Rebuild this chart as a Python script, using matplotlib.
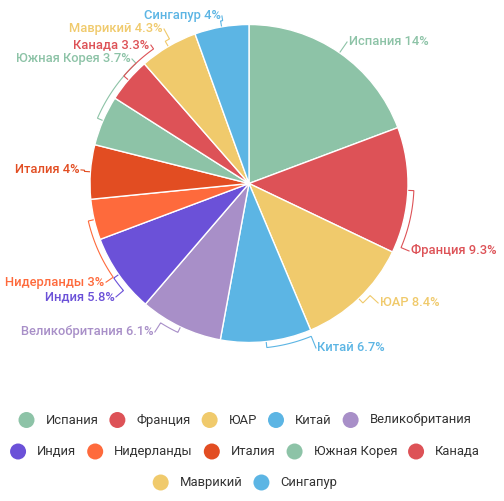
import numpy as np
import matplotlib.pyplot as plt
from matplotlib.patches import Circle

plt.rcParams['font.family'] = ['Roboto', 'DejaVu Sans']

# data
countries = ['Испания', 'Франция', 'ЮАР', 'Китай', 'Великобритания', 'Индия',
             'Нидерланды', 'Италия', 'Южная Корея', 'Канада', 'Маврикий', 'Сингапур']
shares = [14, 9.3, 8.4, 6.7, 6.1, 5.8, 3, 4, 3.7, 3.3, 4.3, 4]

colors = ['#8dc3a7', '#dd5257', '#f0ca6c', '#5cb5e4', '#a88fc8', '#6b51d8',
          '#fe6a3c', '#e24d22', '#8dc3a7', '#dd5257', '#f0ca6c', '#5cb5e4']

# layout (pixels, y going down like the picture)
W, H = 504, 501
CX, CY, R = 249, 183.5, 159
# where each leader line ends, relative to the slice's outer edge at mid angle
label_nudge = [(7.5, -10.8), (1.2, 60.6), (19.4, 4.4), (49.8, 6.4), (-25.6, 5.0),
               (-2.7, 22.3), (11.9, 62.5), (-9.4, -1.9), (29.0, -61.6), (22.5, -34.8),
               (-4.3, -17.5), (0.3, -10.9)]


def img_pt(theta, rad):
    # theta in degrees, clockwise from 12 o'clock
    t = np.radians(theta)
    return CX + rad * np.sin(t), CY - rad * np.cos(t)


fig = plt.figure(figsize=(W / 100, H / 100), dpi=100)
ax = fig.add_axes([0, 0, 1, 1])
ax.pie(shares, colors=colors, startangle=90, counterclock=False,
       center=(CX, H - CY), radius=R,
       wedgeprops=dict(edgecolor='white', linewidth=1))
ax.set_xlim(0, W)
ax.set_ylim(0, H)
ax.set_aspect('equal')
ax.axis('off')

vals = np.array(shares, dtype=float)
cum = np.cumsum(vals)
mids = (cum - vals / 2) / cum[-1] * 360

# slice labels with bracket-style leader lines
for i, name in enumerate(countries):
    mid = mids[i]
    ex, ey = img_pt(mid, R)
    axp, ayp = ex + label_nudge[i][0], ey + label_nudge[i][1]
    ang = np.degrees(np.arctan2(axp - CX, CY - ayp)) % 360
    diff = ((ang - mid + 180) % 360) - 180
    arc = [img_pt(t, R + 6) for t in np.linspace(mid, mid + diff, 30)]
    pts = [img_pt(mid, R + 1)] + arc + [(axp, ayp)]
    xs = [p[0] for p in pts]
    ys = [H - p[1] for p in pts]
    ax.plot(xs, ys, color=colors[i], lw=0.8, solid_joinstyle='miter')
    right = mid < 180
    ax.text(axp + (1.5 if right else -1.5), H - ayp, f'{name} {shares[i]:g}%',
            color=colors[i], fontsize=9.3, fontweight='medium',
            ha='left' if right else 'right', va='center')

# legend, wrapped into centered rows
fig.canvas.draw()
renderer = fig.canvas.get_renderer()
items = []
for i, name in enumerate(countries):
    t = ax.text(0, 0, name, fontsize=9.4, color='#333333', va='center', ha='left')
    w = t.get_window_extent(renderer).width
    items.append((i, t, 16 + 11 + w))

rows, cur, cur_w = [], [], 0
for it in items:
    add = it[2] if not cur else it[2] + 11
    if cur and cur_w + add > 480:
        rows.append((cur, cur_w))
        cur, cur_w = [it], it[2]
    else:
        cur.append(it)
        cur_w += add
rows.append((cur, cur_w))

row_y = [420, 451.5, 482.5]
for r, (row, width) in enumerate(rows):
    x = 245 - width / 2
    y = H - row_y[r]
    for i, t, w in row:
        ax.add_patch(Circle((x + 8, y), 8, color=colors[i], lw=0))
        t.set_position((x + 27, y))
        x += w + 11

fig.savefig('out.png', dpi=100)
